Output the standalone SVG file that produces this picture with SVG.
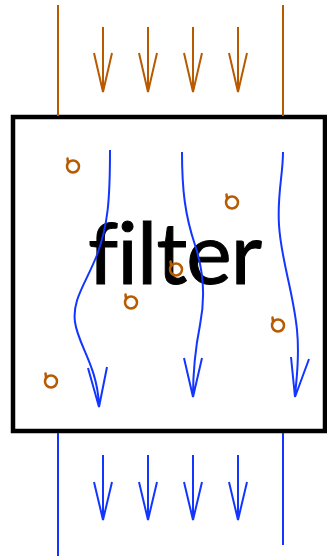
<svg xmlns="http://www.w3.org/2000/svg" width="327" height="558" viewBox="0 0 327 558">
<style>
.o{stroke:#b85a00;stroke-width:2;fill:none}
.po{stroke:#b85a00;stroke-width:2.5;fill:none;stroke-linecap:round}
.b{stroke:#1236ff;stroke-width:2;fill:none}
.lbl{font-family:Lato,"Open Sans",sans-serif;font-size:86px;fill:#000;font-variant-ligatures:none;font-feature-settings:"liga" 0;stroke:#000;stroke-width:1}
</style>
<defs>
<g id="p"><path class="po" d="M-5.5,-7.5 L-5,-3.5"/><circle class="po" cx="0" cy="0.5" r="6"/></g>
<path id="ao" class="o" d="M0,0 V65 M-9,26 L0,65 L9,26"/>
<path id="ab" class="b" d="M0,0 V65 M-9,27 L0,65 L9,27"/>
</defs>
<rect fill="#fff" width="327" height="558"/>
<g id="filter">
<rect x="13" y="117" width="312" height="314" fill="none" stroke="#000" stroke-width="4.5"/>
<text class="lbl" x="175" y="284" text-anchor="middle" textLength="174" lengthAdjust="spacing">filter</text>
</g>
<g id="particles">
<use href="#p" x="73" y="166"/>
<use href="#p" x="232" y="202"/>
<use href="#p" x="176" y="269"/>
<use href="#p" x="131" y="302"/>
<use href="#p" x="278" y="325"/>
<use href="#p" x="51" y="381"/>
</g>
<g id="connectors">
<line class="o" x1="58" y1="5" x2="58" y2="116"/>
<line class="o" x1="283" y1="5" x2="283" y2="116"/>
<use href="#ao" x="103" y="27"/>
<use href="#ao" x="148" y="27"/>
<use href="#ao" x="193" y="27"/>
<use href="#ao" x="238" y="27"/>
<path class="b" d="M110,150 C110,200 108,225 97,255 C85,285 72,300 75,322 C78,345 97,365 99,405 M88,368 L99,407 L107,367"/>
<path class="b" d="M182,152 C182,190 185,215 195,245 C205,275 205,300 200,325 C195,350 193,370 193,397 M184,358 L193,397 L202,358"/>
<path class="b" d="M283,152 C283,175 277,195 279,225 C281,260 293,290 297,330 C300,360 296,380 295,397 M291,357 L295,397 L309,359"/>
<line class="b" x1="58" y1="433" x2="58" y2="556"/>
<line class="b" x1="283" y1="433" x2="283" y2="545"/>
<use href="#ab" x="103" y="455"/>
<use href="#ab" x="148" y="455"/>
<use href="#ab" x="193" y="455"/>
<use href="#ab" x="238" y="455"/>
</g>
</svg>
